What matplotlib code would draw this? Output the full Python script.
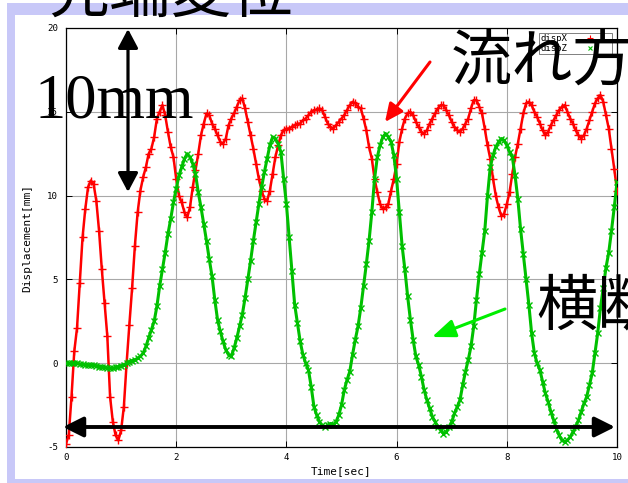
import numpy as np
import matplotlib
matplotlib.use("Agg")
import matplotlib.pyplot as plt
from matplotlib.patches import Rectangle, FancyArrowPatch
from matplotlib.lines import Line2D

plt.rcParams["axes.unicode_minus"] = False

# ---- data: tip displacement sampled every 0.05 s ----
dt = 0.05
disp_x = [
    -4.8, -4.3, -2.0, 0.7, 2.1, 4.8, 7.5, 9.2, 10.5, 10.9,
    10.7, 9.7, 7.9, 5.6, 3.6, 1.6, -2.0, -3.5, -4.3, -4.6,
    -4.0, -2.6, 0.0, 2.3, 4.5, 7.0, 9.0, 10.3, 11.1, 11.7,
    12.5, 12.8, 13.5, 14.6, 15.0, 15.4, 14.8, 13.8, 12.9, 12.3,
    11.0, 10.0, 9.6, 9.0, 8.7, 9.3, 10.5, 11.5, 12.5, 13.6,
    14.3, 14.9, 14.8, 14.3, 14.0, 13.6, 13.2, 13.1, 13.4, 14.2,
    14.6, 14.9, 15.3, 15.7, 15.8, 15.2, 14.4, 13.6, 12.8, 11.9,
    11.0, 10.3, 9.8, 9.7, 10.3, 11.3, 12.3, 13.0, 13.6, 13.9,
    14.0, 14.0, 14.1, 14.2, 14.3, 14.3, 14.5, 14.6, 14.8, 15.0,
    15.1, 15.1, 15.2, 15.1, 14.7, 14.3, 14.1, 14.0, 14.2, 14.4,
    14.6, 14.8, 15.1, 15.4, 15.6, 15.5, 15.3, 15.2, 14.6, 13.9,
    12.9, 12.2, 11.0, 10.2, 9.5, 9.2, 9.3, 9.5, 10.3, 11.0,
    11.9, 13.2, 14.0, 14.6, 14.9, 15.0, 14.8, 14.4, 14.1, 13.8,
    13.7, 13.9, 14.3, 14.6, 14.9, 15.2, 15.4, 15.4, 15.1, 14.8,
    14.4, 14.1, 13.9, 13.8, 14.0, 14.3, 14.6, 15.2, 15.7, 15.7,
    15.3, 14.9, 14.0, 13.0, 12.2, 11.0, 10.0, 9.3, 8.8, 8.9,
    9.5, 10.2, 11.3, 12.3, 13.1, 14.0, 14.9, 15.5, 15.6, 15.4,
    15.0, 14.7, 14.3, 13.9, 13.6, 13.8, 14.2, 14.5, 14.8, 15.1,
    15.3, 15.4, 15.0, 14.6, 14.3, 13.9, 13.6, 13.4, 13.6, 14.0,
    14.5, 15.0, 15.5, 15.8, 16.0, 15.6, 14.8, 14.0, 12.8, 11.6,
    10.3,
]
disp_z = [
    0.0, 0.0, 0.0, 0.0, 0.0, -0.05, -0.05, -0.1, -0.1, -0.1,
    -0.1, -0.15, -0.2, -0.2, -0.25, -0.3, -0.3, -0.3, -0.25, -0.2,
    -0.15, -0.1, 0.0, 0.1, 0.15, 0.2, 0.3, 0.4, 0.6, 1.0,
    1.5, 2.0, 2.5, 3.4, 4.6, 5.6, 6.6, 7.7, 8.6, 9.6,
    10.4, 11.2, 11.7, 12.2, 12.5, 12.3, 11.9, 11.3, 10.2, 9.3,
    8.3, 7.3, 6.2, 5.2, 3.8, 2.6, 1.9, 1.3, 0.8, 0.5,
    0.4, 0.9, 1.5, 2.2, 2.9, 3.9, 5.0, 6.1, 7.3, 8.4,
    9.5, 10.5, 11.4, 12.2, 13.0, 13.5, 13.4, 13.1, 12.6, 11.0,
    9.5, 7.5, 5.5, 3.5, 2.4, 1.3, 0.5, 0.0, -0.4, -1.4,
    -2.6, -3.1, -3.5, -3.7, -3.8, -3.7, -3.6, -3.7, -3.5, -3.1,
    -2.5, -1.6, -1.0, -0.5, 0.5, 1.4, 2.2, 3.3, 4.6, 5.9,
    7.3, 9.0, 11.0, 12.3, 13.0, 13.5, 13.7, 13.5, 13.2, 12.4,
    11.0, 9.0, 7.0, 5.6, 4.0, 2.6, 1.4, 0.4, -0.1, -0.8,
    -1.6, -2.2, -2.7, -3.2, -3.5, -3.8, -4.0, -4.2, -4.1, -3.8,
    -3.5, -3.0, -2.6, -2.2, -1.3, -0.5, 0.2, 1.0, 2.2, 3.8,
    5.3, 6.6, 7.9, 10.0, 11.7, 12.4, 12.9, 13.2, 13.4, 13.3,
    13.0, 12.6, 12.3, 11.2, 9.8, 8.0, 6.5, 5.0, 3.5, 1.8,
    0.6, 0.0, -0.4, -1.1, -1.8, -2.3, -2.9, -3.4, -3.9, -4.3,
    -4.6, -4.7, -4.6, -4.4, -4.1, -3.8, -3.4, -2.9, -2.4, -2.0,
    -1.3, -0.6, 0.6, 1.8, 3.3, 4.5, 5.7, 6.6, 7.9, 9.3,
    10.8,
]
time = np.arange(len(disp_x)) * dt
x_ticks = [0, 2, 4, 6, 8, 10]
y_ticks = [-5, 0, 5, 10, 15, 20]

W, H = 628, 483
fig = plt.figure(figsize=(W / 100, H / 100), dpi=100)


def fpos(px, py):
    """pixel position (from top-left) -> figure fraction"""
    return (px / W, 1 - py / H)


# lavender page frame
fig.add_artist(Rectangle(fpos(7, 483), 1.0, (483 - 3) / H,
                         transform=fig.transFigure, facecolor="#c8c8f8",
                         edgecolor="none", zorder=-2))
fig.add_artist(Rectangle(fpos(15, 479), 1.0, (479 - 15) / H,
                         transform=fig.transFigure, facecolor="white",
                         edgecolor="none", zorder=-1))

ax = fig.add_axes([66 / W, 1 - 447 / H, 551 / W, 419 / H])
ax.plot(time, disp_x, color="#ff0000", lw=1.8, marker="+", ms=5.5,
        mew=1.0, label="dispX", zorder=3)
ax.plot(time, disp_z, color="#00c000", lw=2.2, marker="x", ms=4.0,
        mew=1.0, label="dispZ", zorder=4)

ax.set_xlim(0, 10)
ax.set_ylim(-5, 20)
ax.set_xticks(x_ticks)
ax.set_yticks(y_ticks)
ax.grid(True, color="#a8a8a8", lw=0.8)
ax.set_axisbelow(True)
for s in ax.spines.values():
    s.set_linewidth(0.9)
    s.set_color("black")
ax.tick_params(direction="in", length=4.3, width=0.7, top=True, right=True,
               labelsize=6.6, colors="black")
ax.tick_params(axis="y", pad=5.5)
ax.tick_params(axis="x", pad=4.5)
for lab in ax.get_xticklabels() + ax.get_yticklabels():
    lab.set_family("DejaVu Sans Mono")

ax.set_ylabel("Displacement[mm]", family="DejaVu Sans Mono", fontsize=8,
              va="center", ha="center")
ax.yaxis.set_label_coords((27 - 66) / 551, (447 - 238) / 419)
ax.set_xlabel("Time[sec]", family="DejaVu Sans Mono", fontsize=8,
              va="center", ha="center")
ax.xaxis.set_label_coords(0.5, (447 - 471) / 419)

handles = [Line2D([], [], ls="none", marker="+", color="#ff0000", ms=4.5, mew=0.8),
           Line2D([], [], ls="none", marker="x", color="#00c000", ms=3.5, mew=0.8)]
leg = ax.legend(handles, ["dispX", "dispZ"], markerfirst=False,
                loc="upper right", bbox_to_anchor=fpos(612, 33),
                bbox_transform=fig.transFigure, borderaxespad=0,
                fancybox=False, framealpha=1, edgecolor="#808080",
                prop={"family": "DejaVu Sans Mono", "size": 6.5},
                handlelength=4.5, handletextpad=0.3, borderpad=0.15,
                labelspacing=0.05)
leg.get_frame().set_linewidth(0.7)
leg.set_zorder(5)

# annotation arrows
def arrow(p0, p1, color, lw, hl, hw, style="-|>"):
    fig.add_artist(FancyArrowPatch(
        fpos(*p0), fpos(*p1), transform=fig.transFigure,
        arrowstyle=f"{style},head_length={hl},head_width={hw}",
        mutation_scale=1, color=color, lw=lw, shrinkA=0, shrinkB=0,
        zorder=6))


arrow((128, 29), (128, 192), "black", 2.3, 11.5, 6.1, "<|-|>")
arrow((63, 427), (615, 427), "black", 2.8, 12.2, 6.1, "<|-|>")
arrow((430, 62), (385, 122), "#ff0000", 2.2, 10.8, 5.0)
arrow((505, 309), (432, 337), "#00ee00", 2.2, 14.0, 5.5)

cjk = ["Noto Sans CJK JP", "DejaVu Sans"]
fig.text(*fpos(48, -6), "先端変位", family=cjk, fontsize=44,
         ha="left", va="center", color="black", zorder=7)
fig.text(*fpos(451, 63), "流れ方向", family=cjk, fontsize=44,
         ha="left", va="center", color="black", zorder=7)
fig.text(*fpos(536, 308), "横断方向", family=cjk, fontsize=44,
         ha="left", va="center", color="black", zorder=7)
fig.text(*fpos(35, 117), "10mm", family="Liberation Serif", fontsize=45,
         ha="left", va="baseline", color="black", zorder=7)

fig.savefig("out.png", dpi=100)
